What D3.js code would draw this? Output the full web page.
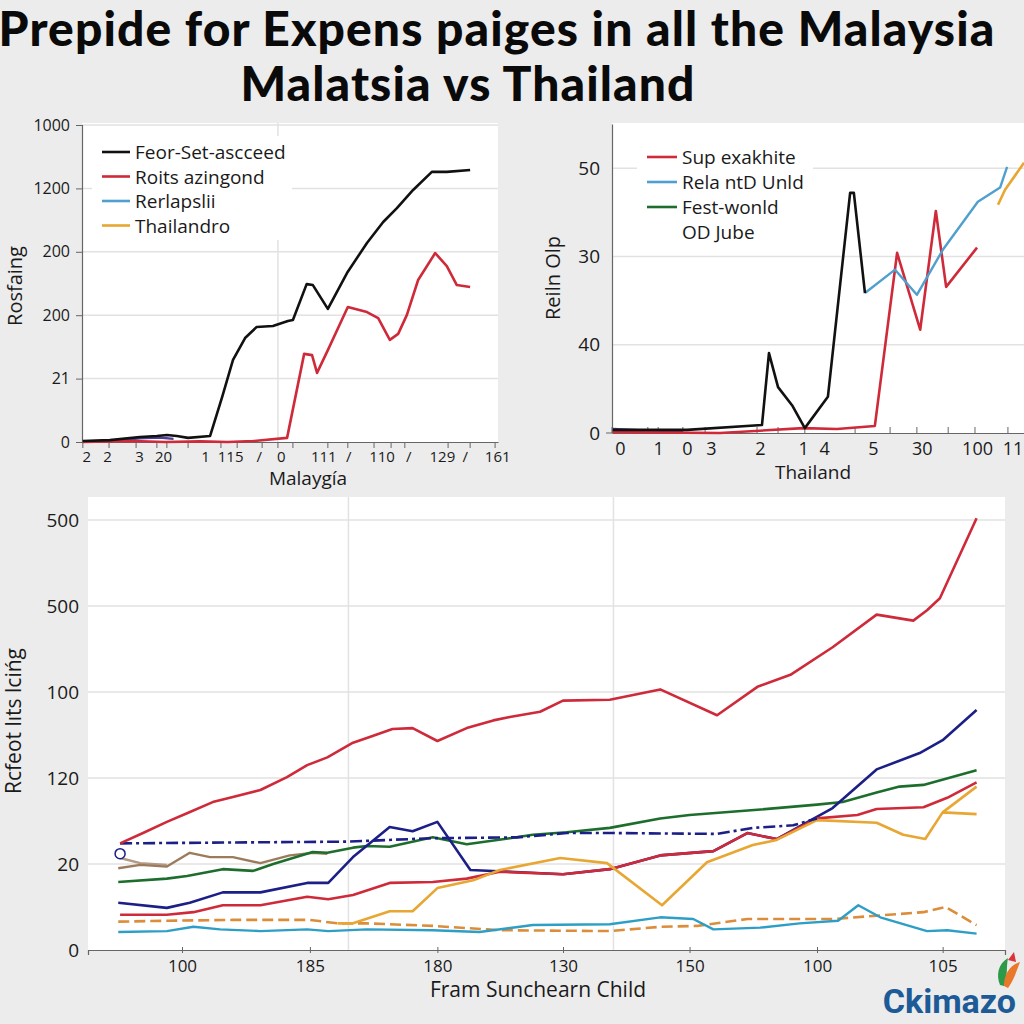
<!DOCTYPE html>
<html>
<head>
<meta charset="utf-8">
<script src="https://cdn.jsdelivr.net/npm/d3@7"></script>
<style>
  html, body { margin: 0; padding: 0; background: #ececec; }
  svg { display: block; }
  text { font-family: "Open Sans", "Noto Sans", sans-serif; fill: #1a1a1a; }
</style>
</head>
<body>
<svg id="chart" width="1024" height="1024"></svg>
<script>
// ---------------- DATA ----------------
const titleLines = ["Prepide for Expens paiges in all the Malaysia", "Malatsia vs Thailand"];

// Panel A (Malaysia)
const aYTicks = [0, 200, 400, 600, 800, 1000];
const aYLabels = ["0", "21", "200", "200", "1200", "1000"];
const aXTicks = [1, 6, 13.7, 19.5, 29.6, 35.6, 42.5, 47.8, 58, 64, 72, 78.4, 86.5, 92, 99.8];
const aXLabels = ["2", "2", "3", "20", "1", "115", "/", "0", "111", "/", "110", "/", "129", "/", "161"];
const aXMinor = [0.2, 6.5, 13, 18, 20.4, 25.5, 33.4, 37.3, 43.3, 47.1, 50.7, 59.1, 63.9, 70.2, 74.3, 77.6, 88, 93.3, 99.3];
const aLegend = ["Feor-Set-ascceed", "Roits azingond", "Rerlapslii", "Thailandro"];
const aBlack = [[0.2,3],[6.7,6],[13.9,16],[18,19],[20.4,22],[22.8,19],[25.5,13],[30.8,19],[33.7,142],[36.3,259],[39.2,328],[42,363],[45.9,366],[49.5,382],[50.7,385],[54,498],[55.5,495],[59.1,420],[63.7,533],[68.5,628],[72.4,694],[75.7,738],[79.6,795],[84.1,852],[87.7,852],[93.3,858]];
const aRed = [[0.2,0],[12.3,3],[20,0],[28.4,2],[35,0],[41.1,3],[49.3,13],[53.4,278],[55.3,274],[56.5,218],[59.1,290],[63.9,426],[68.5,410],[71.2,391],[74,322],[76,341],[78.1,401],[80.8,511],[84.9,596],[87.7,555],[90.1,495],[93.3,489]];
const aPurple = [[0.2,2],[9,5],[13.9,12],[18.5,14],[22,10]];

// Panel B (Thailand)
const bYTicks = [0, 20, 40, 60];
const bYLabels = ["0", "40", "30", "50"];
const bXTicks = [1.9, 11.2, 18.2, 24, 35.9, 46.4, 51.5, 63.3, 75.2, 88.6, 97.2];
const bXLabels = ["0", "1", "0", "3", "2", "1", "4", "5", "30", "100", "11"];
const bXMinor = [0, 8.7, 11.2, 17.2, 22.6, 35.2, 40.3, 46.8, 59, 67.5, 74, 81.6, 88.1, 96.1];
const bLegend = ["Sup exakhite", "Rela ntD Unld", "Fest-wonld", "OD Jube"];
const bBlack = [[0.2,0.7],[18.2,0.7],[36.4,1.8],[38.1,18.1],[40.3,10.4],[43.7,6.3],[46.8,1.1],[52.4,8.2],[57.8,54.4],[58.7,54.4],[61.4,31.7]];
const bBlue = [[61.4,31.7],[68.7,37],[74,31.3],[80.3,41.5],[88.8,52.4],[94.2,55.6],[95.9,60.3]];
const bRed = [[0.2,0.2],[26.2,0],[46.4,1.1],[54.6,0.9],[63.8,1.6],[69.2,40.8],[74.8,23.4],[78.6,50.3],[81.1,33.1],[88.6,42]];
const bOrange = [[93.7,51.7],[95.4,55.1],[100,61.2]];
const bPurple = [[0.2,0.9],[17.2,0.2]];

// Panel C (bottom)
const cYTicks = [0, 100, 200, 300, 400, 500];
const cYLabels = ["0", "20", "120", "100", "500", "500"];
const cXTicks = [10.25, 24.2, 38.1, 51.8, 65.6, 79.5, 93.2];
const cXLabels = ["100", "185", "180", "130", "150", "100", "105"];
const cVGrid = [28.4, 57.3];
const cRedTop = [[3.5,124],[6,136],[8.6,149],[10.8,159],[13.6,172],[15.8,178],[18.8,186],[21.7,201],[23.9,215],[26.1,224],[28.9,241],[30.8,248],[33.2,257],[35.4,258],[38.1,243],[41.3,258],[44.2,267],[46,271],[49.3,277],[51.8,290],[56.9,291],[62.4,303],[68.6,273],[73,306],[76.6,320],[81.2,352],[86,390],[90,383],[91.5,395],[92.9,409],[96.9,502]];
const cNavyDash = [[3.5,124],[28.2,126],[37.6,130],[46.8,131],[52.2,136],[57.3,136],[68.6,135],[72.5,142],[76.9,145],[79.5,153]];
const cNavy = [[3.3,55],[8.6,49],[11.1,55],[14.7,67],[18.8,67],[23.9,78],[26.2,78],[28.9,108],[32.9,143],[35.4,138],[38.1,149],[41.7,93],[46,91],[51.8,88],[56.9,94],[62.4,110],[68.2,115],[71.9,136],[75.1,129],[81.2,165],[86,210],[90.7,229],[93.2,244],[96.9,279]];
const cRed2 = [[3.5,41],[8.6,41],[11.5,44],[14.7,52],[18.8,52],[23.9,62],[26.2,59],[28.9,64],[32.9,78],[37.6,79],[41.3,83],[44.9,91],[51.8,88],[56.9,94],[62.4,110],[68.2,115],[71.9,136],[75.1,129],[79.5,153],[83.9,157],[86,164],[91.1,166],[93.7,177],[96.9,195]];
const cOrange = [[27.2,31],[28.9,31],[32.9,45],[35.4,45],[38.1,72],[42,81],[44.9,93],[51.5,107],[56.6,101],[62.6,52],[67.5,102],[72.5,122],[75.1,128],[79.5,151],[86,148],[88.9,134],[91.3,129],[93.2,160],[96.9,158]];
const cOrangeBranch = [[93.2,160],[96.9,190]];
const cGreen = [[3.3,79],[8.6,83],[10.8,86],[14.7,94],[18,92],[20.2,100],[24.5,114],[26.1,113],[28.9,119],[30.4,121],[32.9,120],[37.6,131],[41.3,123],[46,130],[48.5,134],[52.2,137],[56.9,142],[62.4,153],[65.6,157],[73,163],[79.5,169],[82.3,172],[86,183],[88.5,190],[91.1,192],[96.9,209]];
const cBrown = [[3.3,95],[5.7,99],[8.6,97],[11.1,113],[13.3,108],[15.8,108],[18.8,101],[22,110],[24.5,113],[26.1,112]];
const cBrown2 = [[3.5,107],[5.7,101],[8.6,99]];
const cCyan = [[3.3,21],[8.6,22],[11.5,27],[14.4,24],[18.8,22],[23.9,24],[26.2,22],[30.4,24],[37.6,23],[42.7,21],[47.1,27],[48.5,29],[56.9,30],[62.4,38],[66,36],[68.2,24],[73.3,26],[77.6,31],[81.8,34],[84,52],[86.4,38],[91.5,22],[93.7,23],[96.9,19]];
const cOrangeDash = [[3.3,33],[8.6,34],[15.8,35],[24.2,35],[27.2,31],[30.4,31],[37.6,28],[43.5,24],[44.9,23],[56.9,22],[62.4,27],[66.4,28],[71.9,36],[81.2,36],[91.1,44],[93.5,50],[96.9,29]];
const cMarker = [[3.5,112]];

// ---------------- DRAW ----------------
const svg = d3.select("#chart");
const C = { red: "#cf2a3a", black: "#111111", blue: "#4f9fcf", orange: "#e8a632", green: "#1d6e2c",
            navy: "#1b1f86", cyan: "#2d9ec6", brown: "#9c7b5c", purple: "#4b3f9a", grid: "#e2e2e2", axis: "#666" };

// Title
svg.selectAll("text.title").data(titleLines).enter().append("text")
  .attr("class", "title")
  .attr("x", (d, i) => i === 0 ? 497 : 468)
  .attr("y", (d, i) => i === 0 ? 46 : 101)
  .attr("text-anchor", "middle")
  .style("font-family", "Lato, 'Open Sans', sans-serif")
  .style("font-weight", 900)
  .style("font-size", "48px")
  .style("letter-spacing", "1.1px")
  .style("fill", "#0a0a0a")
  .text(d => d);

function drawLine(g, x, y, data, color, width, dash) {
  const line = d3.line().x(d => x(d[0])).y(d => y(d[1]));
  g.append("path").datum(data)
    .attr("d", line).attr("fill", "none")
    .attr("stroke", color).attr("stroke-width", width || 2.4)
    .attr("stroke-linejoin", "round")
    .attr("stroke-dasharray", dash || null);
}

// ---------- Panel A ----------
{
  const x = d3.scaleLinear().domain([0, 100]).range([82, 498]);
  const y = d3.scaleLinear().domain([0, 1000]).range([442, 125]);
  const g = svg.append("g");
  g.append("rect").attr("x", 82).attr("y", 123).attr("width", 416).attr("height", 319).attr("fill", "#fff");
  g.selectAll("line.hg").data(aYTicks.slice(1)).enter().append("line")
    .attr("x1", 82).attr("x2", 498).attr("y1", d => y(d)).attr("y2", d => y(d))
    .attr("stroke", C.grid).attr("stroke-width", 1.5);
  g.append("line").attr("x1", x(47.1)).attr("x2", x(47.1)).attr("y1", 123).attr("y2", 442)
    .attr("stroke", C.grid).attr("stroke-width", 1.5);
  const ya = d3.axisLeft(y).tickValues(aYTicks).tickSize(6).tickFormat((d, i) => aYLabels[i]);
  const yg = g.append("g").attr("transform", "translate(82,0)").call(ya);
  yg.select(".domain").attr("stroke", C.axis).attr("stroke-width", 1.2);
  yg.selectAll(".tick line").attr("stroke", C.axis);
  yg.selectAll(".tick text").style("font-size", "16px").attr("x", -12).style("fill", "#1a1a1a");
  const xa = d3.axisBottom(x).tickValues(aXTicks).tickSize(0).tickFormat((d, i) => aXLabels[i]);
  const xg = g.append("g").attr("transform", "translate(0,442)").call(xa);
  xg.select(".domain").attr("stroke", C.axis).attr("stroke-width", 1.2);
  xg.selectAll(".tick text").style("font-size", "15px").attr("y", 9).style("fill", "#1a1a1a");
  g.selectAll("line.mt").data(aXMinor).enter().append("line")
    .attr("x1", d => x(d)).attr("x2", d => x(d)).attr("y1", 442).attr("y2", 448)
    .attr("stroke", C.axis).attr("stroke-width", 1);
  drawLine(g, x, y, aPurple, C.purple, 2.4);
  drawLine(g, x, y, aRed, C.red, 2.6);
  drawLine(g, x, y, aBlack, C.black, 2.6);
  g.append("rect").attr("x", 92).attr("y", 136).attr("width", 200).attr("height", 104).attr("fill", "#fff");
  const lc = [C.black, C.red, C.blue, C.orange];
  const lg = g.selectAll("g.leg").data(aLegend).enter().append("g")
    .attr("transform", (d, i) => `translate(0, ${152 + i * 24.5})`);
  lg.append("line").attr("x1", 102).attr("x2", 130).attr("y1", 0).attr("y2", 0)
    .attr("stroke", (d, i) => lc[i]).attr("stroke-width", 2.6);
  lg.append("text").attr("x", 135).attr("y", 7).style("font-size", "19px").text(d => d);
  g.append("text").attr("transform", "translate(22,286) rotate(-90)").attr("text-anchor", "middle")
    .style("font-size", "20px").text("Rosfaing");
  g.append("text").attr("x", 308).attr("y", 485).attr("text-anchor", "middle")
    .style("font-size", "19px").text("Malaygía");
}

// ---------- Panel B ----------
{
  const x = d3.scaleLinear().domain([0, 100]).range([612, 1024]);
  const y = d3.scaleLinear().domain([0, 70]).range([433, 124]);
  const g = svg.append("g");
  g.append("rect").attr("x", 612).attr("y", 123).attr("width", 412).attr("height", 310).attr("fill", "#fff");
  g.selectAll("line.hg").data(bYTicks.slice(1)).enter().append("line")
    .attr("x1", 612).attr("x2", 1024).attr("y1", d => y(d)).attr("y2", d => y(d))
    .attr("stroke", C.grid).attr("stroke-width", 1.5);
  const ya = d3.axisLeft(y).tickValues(bYTicks).tickSize(0).tickFormat((d, i) => bYLabels[i]);
  const yg = g.append("g").attr("transform", "translate(612,0)").call(ya);
  yg.select(".domain").attr("stroke", C.axis).attr("stroke-width", 1.2);
  yg.selectAll(".tick text").style("font-size", "19px").attr("x", -12).style("fill", "#1a1a1a");
  const xa = d3.axisBottom(x).tickValues(bXTicks).tickSize(0).tickFormat((d, i) => bXLabels[i]);
  const xg = g.append("g").attr("transform", "translate(0,433)").call(xa);
  xg.select(".domain").attr("stroke", C.axis).attr("stroke-width", 1.2);
  xg.selectAll(".tick text").style("font-size", "18px").attr("y", 9).style("fill", "#1a1a1a");
  g.selectAll("line.mt").data(bXMinor).enter().append("line")
    .attr("x1", d => x(d)).attr("x2", d => x(d)).attr("y1", 427).attr("y2", 433)
    .attr("stroke", C.axis).attr("stroke-width", 1);
  g.append("line").attr("x1", 606).attr("x2", 612).attr("y1", y(0)).attr("y2", y(0)).attr("stroke", C.axis);
  drawLine(g, x, y, bPurple, C.purple, 2.4);
  drawLine(g, x, y, bRed, C.red, 2.6);
  drawLine(g, x, y, bBlue, C.blue, 2.4);
  drawLine(g, x, y, bBlack, C.black, 2.6);
  drawLine(g, x, y, bOrange, C.orange, 2.6);
  g.append("rect").attr("x", 637).attr("y", 142).attr("width", 176).attr("height", 104).attr("fill", "#fff");
  const lc = [C.red, C.blue, C.green, null];
  const lg = g.selectAll("g.leg").data(bLegend).enter().append("g")
    .attr("transform", (d, i) => `translate(0, ${157 + i * 25})`);
  lg.filter((d, i) => lc[i]).append("line").attr("x1", 647).attr("x2", 677).attr("y1", 0).attr("y2", 0)
    .attr("stroke", (d, i) => lc[i]).attr("stroke-width", 2.6);
  lg.append("text").attr("x", 682).attr("y", 7).style("font-size", "19px").text(d => d);
  g.append("text").attr("transform", "translate(560,278) rotate(-90)").attr("text-anchor", "middle")
    .style("font-size", "20px").text("Reiln Olp");
  g.append("text").attr("x", 813).attr("y", 479).attr("text-anchor", "middle")
    .style("font-size", "19px").text("Thailand");
}

// ---------- Panel C ----------
{
  const x = d3.scaleLinear().domain([0, 100]).range([88, 1005]);
  const y = d3.scaleLinear().domain([0, 500]).range([950, 520]);
  const g = svg.append("g");
  g.append("rect").attr("x", 88).attr("y", 497).attr("width", 917).attr("height", 453).attr("fill", "#fff");
  g.selectAll("line.hg").data(cYTicks.slice(1)).enter().append("line")
    .attr("x1", 88).attr("x2", 1005).attr("y1", d => y(d)).attr("y2", d => y(d))
    .attr("stroke", C.grid).attr("stroke-width", 1.5);
  g.selectAll("line.vg").data(cVGrid).enter().append("line")
    .attr("x1", d => x(d)).attr("x2", d => x(d)).attr("y1", 497).attr("y2", 950)
    .attr("stroke", C.grid).attr("stroke-width", 1.5);
  const ya = d3.axisLeft(y).tickValues(cYTicks).tickSize(0).tickFormat((d, i) => cYLabels[i]);
  const yg = g.append("g").attr("transform", "translate(88,0)").call(ya);
  yg.select(".domain").remove();
  yg.selectAll(".tick text").style("font-size", "19px").attr("x", -9).style("fill", "#1a1a1a");
  const xa = d3.axisBottom(x).tickValues(cXTicks).tickSize(5).tickFormat((d, i) => cXLabels[i]);
  const xg = g.append("g").attr("transform", "translate(0,950)").call(xa);
  xg.select(".domain").attr("stroke", C.axis).attr("stroke-width", 1.2);
  xg.selectAll(".tick line").attr("stroke", C.axis).attr("y1", -3).attr("y2", 3);
  xg.selectAll(".tick text").style("font-size", "17px").attr("y", 10).style("fill", "#1a1a1a");

  drawLine(g, x, y, cOrangeDash, "#dc8d3a", 2.6, "11,5");
  drawLine(g, x, y, cCyan, C.cyan, 2.4);
  drawLine(g, x, y, cBrown2, "#b39a86", 2.4);
  drawLine(g, x, y, cBrown, C.brown, 2.4);
  drawLine(g, x, y, cGreen, C.green, 2.6);
  drawLine(g, x, y, cNavy, C.navy, 2.6);
  drawLine(g, x, y, cRed2, C.red, 2.6);
  drawLine(g, x, y, cOrangeBranch, C.orange, 2.6);
  drawLine(g, x, y, cOrange, C.orange, 2.6);
  drawLine(g, x, y, cNavyDash, C.navy, 2.6, "12,4,3,4");
  drawLine(g, x, y, cRedTop, C.red, 2.6);
  g.selectAll("circle.mk").data(cMarker).enter().append("circle")
    .attr("cx", d => x(d[0])).attr("cy", d => y(d[1])).attr("r", 5)
    .attr("fill", "#fff").attr("stroke", C.navy).attr("stroke-width", 1.5);

  g.append("text").attr("transform", "translate(21,721) rotate(-90)").attr("text-anchor", "middle")
    .style("font-size", "21px").text("Rcfeot  lıts lcińg");
  g.append("text").attr("x", 538).attr("y", 997).attr("text-anchor", "middle")
    .style("font-size", "21px").text("Fram Sunchearn Child");
}

// ---------- Watermark ----------
{
  const g = svg.append("g");
  g.append("text").attr("x", 1016).attr("y", 1013).attr("text-anchor", "end")
    .style("font-family", "Roboto, 'Open Sans', sans-serif").style("font-weight", 700)
    .style("font-size", "34px").style("fill", "#1c5a98").text("Ckimazo");
  g.append("path").attr("d", "M1000,985 C996,975 998,964 1008,958 C1006,968 1008,977 1004,986 Z").attr("fill", "#2d9a4a");
  g.append("path").attr("d", "M1004,986 C1004,974 1010,965 1020,962 C1016,972 1014,980 1008,988 Z").attr("fill", "#e8782a");
  g.append("path").attr("d", "M1008,960 L1014,952 L1016,962 Z").attr("fill", "#d8343a");
}
</script>
</body>
</html>
